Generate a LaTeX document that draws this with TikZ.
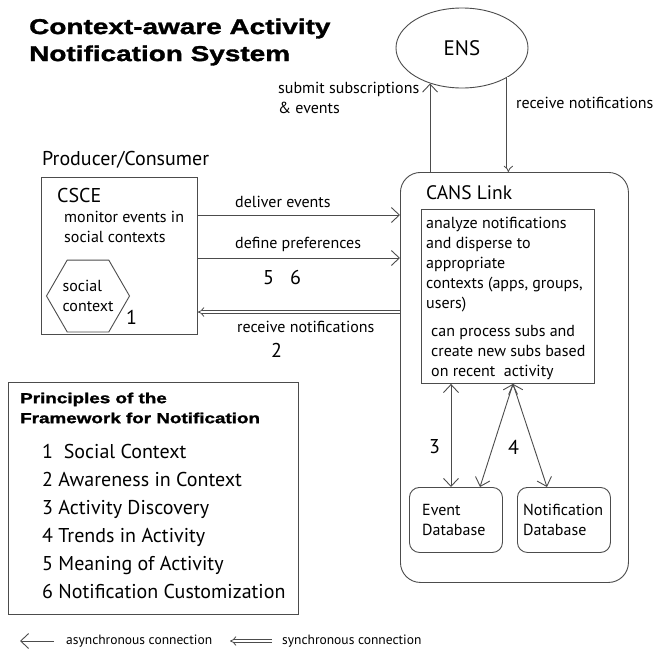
\documentclass[tikz,border=0pt]{standalone}
\usepackage{fontspec}
\setmainfont{PT Sans}
\newfontfamily\titlefont[FakeStretch=1.3,FakeBold=1.5]{Liberation Sans}
\usetikzlibrary{arrows.meta,shapes.geometric}
\tikzset{
  txt/.style={inner sep=0pt, anchor=west, align=left},
  box/.style={draw=black!70, line width=0.9pt, inner sep=0pt},
  async/.style={draw=black!70, line width=0.9pt, -{Straight Barb[length=8pt,width=15pt]}},
  both/.style={draw=black!70, line width=0.9pt, {Straight Barb[length=8pt,width=15pt]}-{Straight Barb[length=8pt,width=15pt]}},
  sync/.style={draw=black!70, double=white, double distance=2.4pt, line width=0.8pt, -{Implies[length=9pt,width=17pt]}}
}
\begin{document}
\begin{tikzpicture}[x=1pt,y=-1pt,font=\fontsize{16}{20}\selectfont]
\useasboundingbox[fill=white] (0,0) rectangle (654,654);
\node [txt,font=\titlefont\bfseries\fontsize{21.5}{27}\selectfont] (title) at (29,42) {Context-aware Activity\\Notification System};
\node [box,ellipse,minimum width=132,minimum height=80,font=\fontsize{21}{24}\selectfont] (ens) at (462,48) {ENS};
\node [box,rounded corners=20,minimum width=228,minimum height=410,anchor=north west] (cans) at (400,172) {};
\node [txt,font=\fontsize{19.5}{24}\selectfont] (canstitle) at (426,193) {CANS Link};
\node [box,minimum width=173,minimum height=174,anchor=north west] (proc) at (421,209) {};
\node [txt] (analyze) at (426,265) {analyze notifications\\and disperse to\\appropriate\\contexts (apps, groups,\\users)};
\node [txt] (subs) at (431,353) {can process subs and\\create new subs based\\on recent~~activity};
\node [box,rounded corners=10,minimum width=93,minimum height=65,anchor=north west] (edb) at (409,487) {};
\node [txt] (edbtext) at (422,520) {Event\\Database};
\node [box,rounded corners=10,minimum width=93,minimum height=65,anchor=north west] (ndb) at (517,487) {};
\node [txt] (ndbtext) at (523,520) {Notification\\Database};
\node [txt,font=\fontsize{20}{24}\selectfont] (prod) at (42,160) {Producer/Consumer};
\node [box,minimum width=156,minimum height=157,anchor=north west] (csce) at (41,177) {};
\node [txt,font=\fontsize{20}{24}\selectfont] (cscetitle) at (57,195) {CSCE};
\node [txt] (monitor) at (64,227) {monitor events in\\social contexts};
\node [box,regular polygon,regular polygon sides=6,minimum size=72,align=left] (social) at (88,296) {social\\context};
\node [txt,font=\fontsize{20}{24}\selectfont] (one) at (126,317) {1};
\node [txt] (submit) at (278,98) {submit subscriptions\\\& events};
\node [txt] (recvens) at (516,103) {receive notifications};
\node [txt] (deliver) at (235,202) {deliver events};
\node [txt] (define) at (235,244) {define preferences};
\node [txt,font=\fontsize{20}{24}\selectfont] (fivesix) at (263,277) {5~~~6};
\node [txt] (recv) at (237,327) {receive notifications};
\node [txt,font=\fontsize{20}{24}\selectfont] (two) at (271,350) {2};
\node [txt,font=\fontsize{20}{24}\selectfont] (three) at (429,447) {3};
\node [txt,font=\fontsize{20}{24}\selectfont] (four) at (508,447) {4};
\draw [async] (cans.north -| ens.228) -- (ens.228);
\draw [sync] (ens.328) -- (cans.north -| ens.328);
\draw [async] (csce.east |- 0,215) -- (cans.west |- 0,215);
\draw [async] (csce.east |- 0,258) -- (cans.west |- 0,258);
\draw [sync] (cans.west |- 0,312) -- (csce.east |- 0,312);
\draw [both] (proc.south -| 451,0) -- (edb.north -| 451,0);
\draw [both] (proc.south -| 513,0) -- (edb.north -| 480,0);
\draw [both] (proc.south -| 513,0) -- (ndb.north -| 547,0);
\node [box,minimum width=290,minimum height=232,anchor=north west] (legend) at (8,382) {};
\node [txt,font=\titlefont\bfseries\fontsize{14.5}{20}\selectfont] (principles) at (20,408) {Principles of the\\Framework for Notification};
\node [txt,font=\fontsize{20}{28}\selectfont] (items) at (42,521) {1~~Social Context\\2 Awareness in Context\\3 Activity Discovery\\4 Trends in Activity\\5 Meaning of Activity\\6 Notification Customization};
\coordinate (asyncend) at (20,641);
\coordinate (syncend) at (230,641);
\node [txt,font=\fontsize{13.5}{16}\selectfont] (asynctext) at (66,641) {asynchronous connection};
\node [txt,font=\fontsize{13.5}{16}\selectfont] (synctext) at (282,641) {synchronous connection};
\draw [async] (asynctext.west) ++(-12,0) -- (asyncend);
\draw [sync] (synctext.west) ++(-10,0) -- (syncend);
\end{tikzpicture}
\end{document}
